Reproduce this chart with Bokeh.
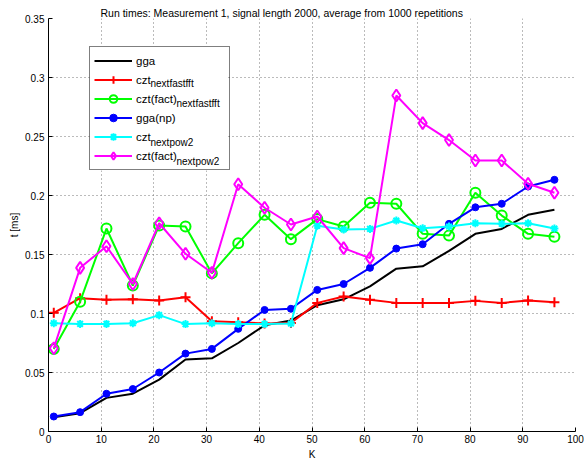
from bokeh.plotting import figure
from bokeh.models import Legend, LegendItem, FixedTicker, Range1d, ColumnDataSource, BoxAnnotation
from bokeh.core.properties import value
from bokeh.embed import file_html
from bokeh.resources import INLINE

K = [1, 6, 11, 16, 21, 26, 31, 36, 41, 46, 51, 56, 61, 66, 71, 76, 81, 86, 91, 96]

gga = [0.012, 0.0155, 0.0285, 0.032, 0.044, 0.061, 0.062, 0.075, 0.090, 0.094,
       0.107, 0.112, 0.123, 0.138, 0.140, 0.153, 0.1675, 0.1717, 0.1836, 0.188]
czt_nextfastfft = [0.1006, 0.113, 0.1116, 0.112, 0.111, 0.1138, 0.0935, 0.0926, 0.0915, 0.092,
                   0.109, 0.1144, 0.1116, 0.109, 0.109, 0.109, 0.1107, 0.109, 0.111, 0.1096]
czt_fact_nextfastfft = [0.070, 0.110, 0.172, 0.1237, 0.1746, 0.1737, 0.134, 0.1596, 0.1836, 0.163,
                        0.180, 0.1737, 0.1938, 0.193, 0.1675, 0.166, 0.2023, 0.183, 0.1675, 0.165]
gga_np = [0.0127, 0.0164, 0.032, 0.036, 0.050, 0.066, 0.070, 0.087, 0.103, 0.104,
          0.120, 0.125, 0.1387, 0.155, 0.1587, 0.176, 0.190, 0.193, 0.2076, 0.2133]
czt_nextpow2 = [0.0918, 0.0912, 0.0912, 0.0918, 0.0986, 0.091, 0.0918, 0.091, 0.091, 0.0915,
                0.1743, 0.1712, 0.1717, 0.1788, 0.1723, 0.1737, 0.1765, 0.176, 0.1765, 0.172]
czt_fact_nextpow2 = [0.0705, 0.1387, 0.157, 0.125, 0.1765, 0.1506, 0.1345, 0.2095, 0.1896, 0.1754,
                     0.1822, 0.1554, 0.1469, 0.2847, 0.2613, 0.247, 0.2297, 0.2297, 0.2099, 0.2023]

x_ticks = [0, 10, 20, 30, 40, 50, 60, 70, 80, 90, 100]
x_tick_labels = ["0", "10", "20", "30", "40", "50", "60", "70", "80", "90", "100"]
y_ticks = [0, 0.05, 0.1, 0.15, 0.2, 0.25, 0.3, 0.35]
y_tick_labels = ["0", "0.05", "0.1", "0.15", "0.2", "0.25", "0.3", "0.35"]

title = "Run times: Measurement 1, signal length 2000, average from 1000 repetitions"
legend_base = ["gga", "czt", "czt(fact)", "gga(np)", "czt", "czt(fact)"]
legend_sub = ["", "nextfastfft", "nextfastfft", "", "nextpow2", "nextpow2"]

FONT = "Liberation Sans"
X_MIN, X_MAX = 0, 100
Y_MIN, Y_MAX = 0, 0.35
FRAME_W, FRAME_H = 527, 413


def to_dx(px):
    return X_MIN + px * (X_MAX - X_MIN) / FRAME_W


def to_dy(py):
    return Y_MIN + py * (Y_MAX - Y_MIN) / FRAME_H


p = figure(width=584, height=463, output_backend="svg", toolbar_location=None,
           x_range=Range1d(X_MIN, X_MAX), y_range=Range1d(Y_MIN, Y_MAX),
           min_border_left=48, min_border_right=9, min_border_bottom=32, min_border_top=18)
p.title.text = title
p.title.align = "left"
p.title.offset = 52
p.title.text_font = FONT
p.title.text_font_size = "10.5px"
p.title.text_font_style = "normal"
p.title.text_color = "black"
p.title.standoff = 0

p.outline_line_color = None
p.background_fill_color = "white"
p.border_fill_color = "white"

for ax in (p.xaxis[0], p.yaxis[0]):
    ax.major_tick_in = 4
    ax.major_tick_out = 0
    ax.minor_tick_line_color = None
    ax.axis_line_color = "black"
    ax.major_tick_line_color = "black"
    ax.major_label_text_font = FONT
    ax.major_label_text_font_size = "10px"
    ax.major_label_text_color = "black"
    ax.axis_label_text_font = FONT
    ax.axis_label_text_font_size = "10px"
    ax.axis_label_text_font_style = "normal"
    ax.axis_label_text_color = "black"

p.xaxis.ticker = FixedTicker(ticks=x_ticks)
p.xaxis.major_label_overrides = dict(zip(x_ticks, x_tick_labels))
p.yaxis.ticker = FixedTicker(ticks=y_ticks)
p.yaxis.major_label_overrides = dict(zip(y_ticks, y_tick_labels))
p.xaxis.axis_label = "K"
p.yaxis.axis_label = "t [ms]"
p.xaxis.major_label_standoff = 3
p.yaxis.major_label_standoff = 4
p.xaxis.axis_label_standoff = 3
p.yaxis.axis_label_standoff = 2

for g in (p.xgrid[0], p.ygrid[0]):
    g.grid_line_color = "#777777"
    g.grid_line_dash = "1 3"
    g.grid_line_width = 1

# legend layout (screen px, relative to the frame)
leg_x = 41
pad = 4
item_h = 19.5
glyph_w = 38
standoff = 4
leg_w = 137
leg_h = 6 * item_h + 2 * pad
leg_top_from_frame_top = 27
leg_y = FRAME_H - leg_top_from_frame_top - leg_h

# white background of the legend, drawn above the grid but below everything else
p.add_layout(BoxAnnotation(left=to_dx(leg_x), right=to_dx(leg_x + leg_w),
                           bottom=to_dy(leg_y), top=to_dy(leg_y + leg_h),
                           fill_color="white", fill_alpha=1.0, line_color=None, level="underlay"))

series = [
    (gga, "#000000", None, {}),
    (czt_nextfastfft, "#ff0000", "cross", dict(size=10, line_width=2)),
    (czt_fact_nextfastfft, "#00ff00", "circle", dict(size=10, line_width=2, fill_color=None)),
    (gga_np, "#0000ff", "circle", dict(size=7, line_width=1, fill_color="#0000ff")),
    (czt_nextpow2, "#00ffff", "asterisk", dict(size=8, line_width=2)),
    (czt_fact_nextpow2, "#ff00ff", "diamond", dict(size=12, line_width=2, fill_color=None)),
]

items = []
for i, (ys, color, marker, kw) in enumerate(series):
    rs = [p.line(K, ys, line_color=color, line_width=2)]
    if marker is not None:
        rs.append(p.scatter(K, ys, marker=marker, line_color=color, **kw))
    label = legend_base[i]
    if i == 2:
        label = label + "\u00a0" * 15
    items.append(LegendItem(label=label, renderers=rs))

legend = Legend(items=items, location=(leg_x, leg_y), padding=pad, spacing=0, margin=0,
                glyph_width=glyph_w, glyph_height=int(item_h), label_height=int(item_h),
                label_standoff=standoff, label_text_font=FONT, label_text_font_size="11.5px",
                label_text_color="black",
                border_line_color="black", border_line_width=1, background_fill_alpha=0.0)
p.add_layout(legend)

# subscripts of the legend labels
base_w = {"czt": 15, "czt(fact)": 41}
text_x = leg_x + pad + glyph_w + standoff
sx, sy, st = [], [], []
for i, sub in enumerate(legend_sub):
    if not sub:
        continue
    cy = leg_y + leg_h - pad - (i + 0.5) * item_h - 5
    sx.append(to_dx(text_x + base_w[legend_base[i]]))
    sy.append(to_dy(cy))
    st.append(sub)
sub_src = ColumnDataSource(dict(x=sx, y=sy, text=st))
p.text(x="x", y="y", text="text", source=sub_src, text_font=value(FONT),
       text_font_size="10px", text_baseline="middle", text_align="left", text_color="black")

open("out.html", "w").write(file_html(p, INLINE))
